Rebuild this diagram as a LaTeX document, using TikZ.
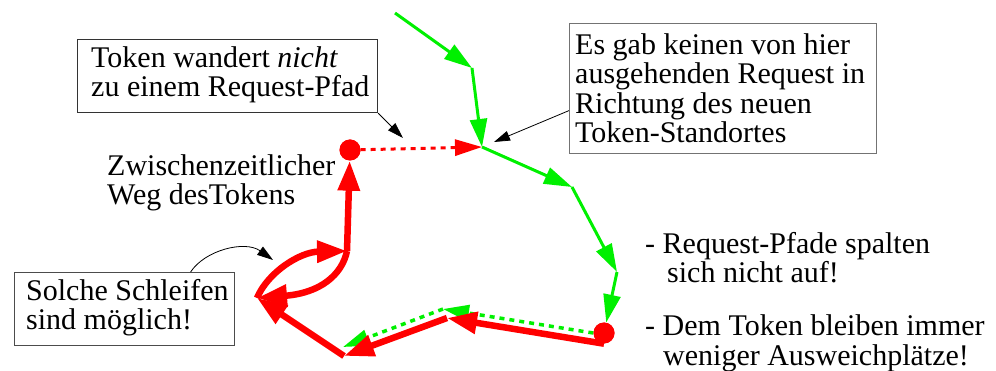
\documentclass[tikz,border=0pt]{standalone}
\usepackage{fontspec}
\setmainfont{Liberation Serif}
\usetikzlibrary{arrows.meta,calc}
\definecolor{pathgreen}{RGB}{0,240,0}
\definecolor{pathred}{RGB}{255,0,0}
\begin{document}
\begin{tikzpicture}[x=1pt,y=-1pt,
  % base west of a multi-line label sits on the baseline of its last line
  txt/.style={font=\fontsize{30}{29.5}\selectfont, inner sep=0pt, align=left, anchor=base west},
  notebox/.style={draw=#1, line width=1.2pt, rectangle, inner sep=0pt, anchor=north west},
  greq/.style={draw=pathgreen, line width=3pt, -{Triangle[length=28pt,width=17pt]}},
  gback/.style={draw=pathgreen, line width=3.5pt, dash pattern=on 5pt off 5pt, -{Triangle[length=26pt,width=16pt]}},
  rtok/.style={draw=pathred, line width=6.5pt, -{Triangle[length=30pt,width=21pt]}},
  rjump/.style={draw=pathred, line width=3pt, dash pattern=on 5pt off 5pt, -{Triangle[length=27pt,width=16pt]}},
  tokdot/.style={circle, fill=pathred, minimum size=21pt, inner sep=0pt},
  pointer/.style={draw=black, line width=0.8pt, -{Triangle[length=16pt,width=10pt]}},
]
\useasboundingbox (0,0) rectangle (996,371);

% corner points of the request path and of the token's route
\coordinate (g0) at (395,13);
\coordinate (g1) at (472,68);
\coordinate (g2) at (482,147);
\coordinate (g3) at (572,187);
\coordinate (g4) at (617,272);
\coordinate (b1) at (443,309);
\coordinate (b2) at (343,347);
\coordinate (r1) at (447,318);
\coordinate (r2) at (344,356);
\coordinate (r3) at (257,298);
\coordinate (r4) at (347,251);
\node[tokdot] (d1) at (350,150) {};
\node[tokdot] (d2) at (604,333) {};

% green request path
\draw[greq] (g0) -- (g1);
\draw[greq] (g1) -- (g2);
\draw[greq] (g2) -- (g3);
\draw[greq] (g3) -- (g4);
\draw[greq] (g4) -- (d2);

% green dashed return of the request
\draw[gback] (d2.west) -- (b1);
\draw[gback] (b1) -- (b2);

% red dotted jump of the token
\draw[rjump] (d1) -- (g2);

% red route of the token, with the loop
\draw[rtok] (d2.south) -- (r1);
\draw[rtok] (r1) -- (r2);
\draw[rtok] (r2) -- (r3);
\draw[rtok] (r3) .. controls (268,272) and (300,252) .. (r4);
\draw[rtok] (r4) .. controls (342,275) and (320,293) .. (r3);
\draw[rtok] (r4) -- (d1);

% token positions
\node[tokdot] at (d1) {};
\node[tokdot] at (d2) {};

% annotation boxes
\node[notebox=black!80, minimum width=300pt, minimum height=73pt] (box1) at (77,39) {};
\node[txt] (t1) at ([xshift=14pt,yshift=-58pt]box1.north west) {Token wandert \textit{nicht}\\zu einem Request-Pfad};

\node[notebox=black!55, minimum width=307pt, minimum height=130pt] (box2) at (569,23) {};
\node[txt] (t2) at ([xshift=6pt,yshift=-120pt]box2.north west) {Es gab keinen von hier\\ausgehenden Request in\\Richtung des neuen\\Token-Standortes};

\node[notebox=black!70, minimum width=220pt, minimum height=73pt] (box3) at (14,272) {};
\node[txt] (t3) at ([xshift=12pt,yshift=-58pt]box3.north west) {Solche Schleifen\\sind möglich!};

% pointers from the boxes
\coordinate (p1) at (403,138);
\draw[pointer] (box1.south east) -- (p1);
\coordinate (p2) at (494,142);
\draw[pointer] ([yshift=-22pt]box2.west) -- (p2);
\coordinate (p3) at (273,260);
\draw[pointer] ([xshift=66pt]box3.north) .. controls (205,250) and (245,240) .. (p3);

% free labels
\node[txt] (way) at (107,205) {Zwischenzeitlicher\\Weg desTokens};
\node[txt] (n1) at (645,283) {- Request-Pfade spalten\\\hspace*{22pt}sich nicht auf!};
\node[txt] (n2) at (645,365) {- Dem Token bleiben immer\\\hspace*{18pt}weniger Ausweichplätze!};
\end{tikzpicture}
\end{document}
